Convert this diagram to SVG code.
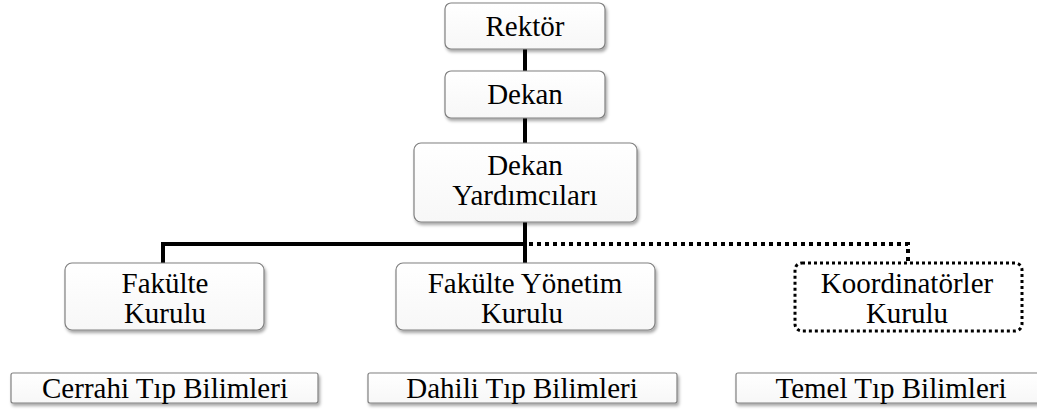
<svg xmlns="http://www.w3.org/2000/svg" width="1037" height="410" viewBox="0 0 1037 410">
<defs>
<filter id="sh" x="-10%" y="-10%" width="130%" height="140%">
<feDropShadow dx="1.5" dy="2.5" stdDeviation="1.5" flood-color="#000" flood-opacity="0.35"/>
</filter>
<linearGradient id="g" x1="0" y1="0" x2="0" y2="1">
<stop offset="0" stop-color="#ffffff"/>
<stop offset="1" stop-color="#f7f7f7"/>
</linearGradient>
</defs>
<style>
.box{fill:url(#g);stroke:#808080;stroke-width:1.2;filter:url(#sh)}
.dbox{fill:#fff;stroke:#000;stroke-width:3;stroke-dasharray:3 3}
.t{font-size:29px;fill:#000;text-anchor:middle}
.solid{stroke:#000;stroke-width:4;fill:none}
.dot{stroke:#000;stroke-width:4;fill:none;stroke-dasharray:4 4}
</style>
<rect width="1037" height="410" fill="#fff"/>
<g id="connectors">
<path class="solid" d="M525 49V71M525 118V143M525 222V263M525 244H163V263"/>
<path class="dot" d="M529 244H908V262"/>
</g>
<g font-family="Liberation Serif, Times New Roman, DejaVu Serif, serif">
<g id="rektor">
<rect class="box" x="445" y="3" width="160" height="46" rx="6"/>
<text class="t" x="525" y="36">Rektör</text>
</g>
<g id="dekan">
<rect class="box" x="445" y="71" width="160" height="47" rx="6"/>
<text class="t" x="525" y="104">Dekan</text>
</g>
<g id="dekan-yardimcilari">
<rect class="box" x="414" y="143" width="223" height="79" rx="7"/>
<text class="t" x="525" y="175">Dekan</text>
<text class="t" x="525" y="205">Yardımcıları</text>
</g>
<g id="fakulte-kurulu">
<rect class="box" x="65" y="263" width="199" height="67" rx="7"/>
<text class="t" x="165" y="293">Fakülte</text>
<text class="t" x="165" y="323">Kurulu</text>
</g>
<g id="fakulte-yonetim-kurulu">
<rect class="box" x="396" y="263" width="259" height="67" rx="7"/>
<text class="t" x="525" y="293">Fakülte Yönetim</text>
<text class="t" x="522" y="323">Kurulu</text>
</g>
<g id="koordinatorler-kurulu">
<rect class="dbox" x="795" y="263" width="227" height="68" rx="7"/>
<text class="t" x="907" y="293">Koordinatörler</text>
<text class="t" x="907" y="323">Kurulu</text>
</g>
<g id="cerrahi">
<rect class="box" x="11" y="373" width="307" height="30" rx="2"/>
<text class="t" x="165" y="398">Cerrahi Tıp Bilimleri</text>
</g>
<g id="dahili">
<rect class="box" x="368" y="373" width="309" height="30" rx="2"/>
<text class="t" x="522" y="398">Dahili Tıp Bilimleri</text>
</g>
<g id="temel">
<rect class="box" x="736" y="373" width="310" height="30" rx="2"/>
<text class="t" x="891" y="398">Temel Tıp Bilimleri</text>
</g>
</g>
</svg>
